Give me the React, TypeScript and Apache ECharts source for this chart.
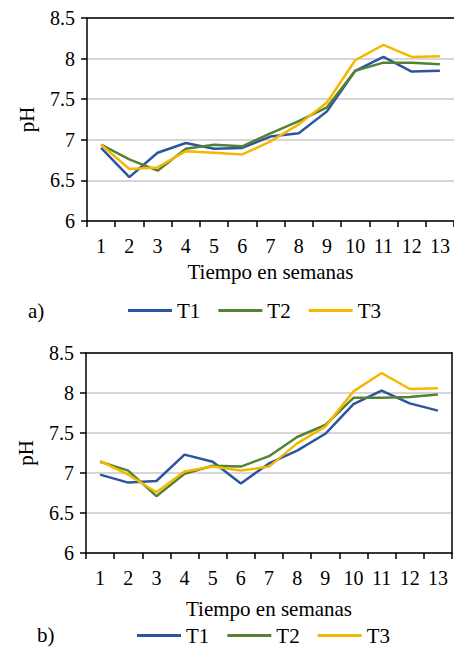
import React, { useEffect, useRef } from "react";
import * as echarts from "echarts";

const weeks = ["1", "2", "3", "4", "5", "6", "7", "8", "9", "10", "11", "12", "13"];
const seriesNames = ["T1", "T2", "T3"];

// Panel a)
const aT1 = [6.9, 6.54, 6.84, 6.96, 6.89, 6.9, 7.04, 7.08, 7.35, 7.85, 8.02, 7.84, 7.85];
const aT2 = [6.94, 6.76, 6.62, 6.89, 6.94, 6.92, 7.08, 7.23, 7.4, 7.85, 7.95, 7.95, 7.93];
const aT3 = [6.94, 6.64, 6.66, 6.86, 6.84, 6.82, 6.98, 7.19, 7.46, 7.98, 8.17, 8.02, 8.03];

// Panel b)
const bT1 = [6.98, 6.88, 6.9, 7.23, 7.14, 6.87, 7.12, 7.28, 7.49, 7.86, 8.03, 7.87, 7.78];
const bT2 = [7.14, 7.03, 6.71, 6.99, 7.09, 7.08, 7.21, 7.45, 7.6, 7.94, 7.94, 7.95, 7.98];
const bT3 = [7.15, 6.98, 6.76, 7.02, 7.08, 7.03, 7.08, 7.37, 7.58, 8.02, 8.25, 8.05, 8.06];

const colors = ["#2E54A1", "#548235", "#F5B800"];
const FONT = "Liberation Serif";
const BLACK = "#000000";

export default function App() {
  const ref = useRef<HTMLDivElement>(null);

  useEffect(() => {
    if (!ref.current) return;
    const chart = echarts.init(ref.current, undefined, { renderer: "svg" });

    const txt = (size: number) => ({
      color: BLACK,
      fontSize: size,
      fontFamily: FONT,
      fontWeight: "normal",
    });

    const mkX = (gi: number, nameGap: number) => [
      {
        gridIndex: gi,
        type: "category",
        data: weeks,
        position: "bottom",
        boundaryGap: true,
        axisLine: { show: true, lineStyle: { color: BLACK, width: 1.5 } },
        axisTick: { show: true, length: 6, lineStyle: { color: BLACK, width: 1.5 } },
        axisLabel: { ...txt(20), margin: 15, interval: 0 },
        splitLine: { show: false },
        name: "Tiempo en semanas",
        nameLocation: "middle",
        nameGap,
        nameTextStyle: txt(21),
      },
      {
        gridIndex: gi,
        type: "category",
        data: weeks,
        position: "top",
        axisLine: { show: true, lineStyle: { color: BLACK, width: 1.5 } },
        axisTick: { show: false },
        axisLabel: { show: false },
        splitLine: { show: false },
      },
    ];

    const mkY = (gi: number) => ({
      gridIndex: gi,
      type: "value",
      min: 6,
      max: 8.5,
      interval: 0.5,
      position: "left",
      axisLine: { show: true, lineStyle: { color: BLACK, width: 1.5 } },
      axisTick: { show: true, length: 6, lineStyle: { color: BLACK, width: 1.5 } },
      axisLabel: { ...txt(20), margin: 12 },
      splitLine: { show: true, lineStyle: { color: "#C8C8C8", width: 1.5 } },
      name: "pH",
      nameLocation: "middle",
      nameGap: 50,
      nameRotate: 90,
      nameTextStyle: txt(21),
    });

    const mkSeries = (data: number[][], xi: number, yi: number) =>
      data.map((d, i) => ({
        name: seriesNames[i],
        type: "line",
        xAxisIndex: xi,
        yAxisIndex: yi,
        data: d,
        showSymbol: false,
        symbol: "none",
        lineStyle: { color: colors[i], width: 2.5 },
        itemStyle: { color: colors[i] },
      }));

    const legendBase = {
      data: seriesNames,
      icon: "rect",
      itemWidth: 44,
      itemHeight: 3,
      itemGap: 18,
      padding: 0,
      orient: "horizontal",
      textStyle: txt(21),
    };

    chart.setOption({
      animation: false,
      backgroundColor: "#ffffff",
      textStyle: { fontFamily: FONT, color: BLACK },
      grid: [
        { left: 87, top: 18, width: 369, height: 203 },
        { left: 86, top: 353, width: 366, height: 200 },
      ],
      xAxis: [...mkX(0, 40), ...mkX(1, 45)],
      yAxis: [
        mkY(0),
        mkY(1),
        {
          gridIndex: 1,
          type: "value",
          min: 6,
          max: 8.5,
          position: "right",
          axisLine: { show: true, lineStyle: { color: BLACK, width: 1.5 } },
          axisTick: { show: false },
          axisLabel: { show: false },
          splitLine: { show: false },
        },
      ],
      legend: [
        { ...legendBase, left: 128, top: 300 },
        { ...legendBase, left: 137, top: 625 },
      ],
      series: [
        ...mkSeries([aT1, aT2, aT3], 0, 0),
        ...mkSeries([bT1, bT2, bT3], 2, 1),
      ],
      graphic: [
        {
          type: "text",
          x: 28,
          y: 311,
          style: { text: "a)", fontSize: 21, fontFamily: FONT, fill: BLACK, verticalAlign: "middle" },
        },
        {
          type: "text",
          x: 37,
          y: 635,
          style: { text: "b)", fontSize: 21, fontFamily: FONT, fill: BLACK, verticalAlign: "middle" },
        },
      ],
    });

    return () => chart.dispose();
  }, []);

  return (
    <div
      ref={ref}
      style={{ position: "absolute", left: 0, top: 0, width: 454, height: 648 }}
    />
  );
}
